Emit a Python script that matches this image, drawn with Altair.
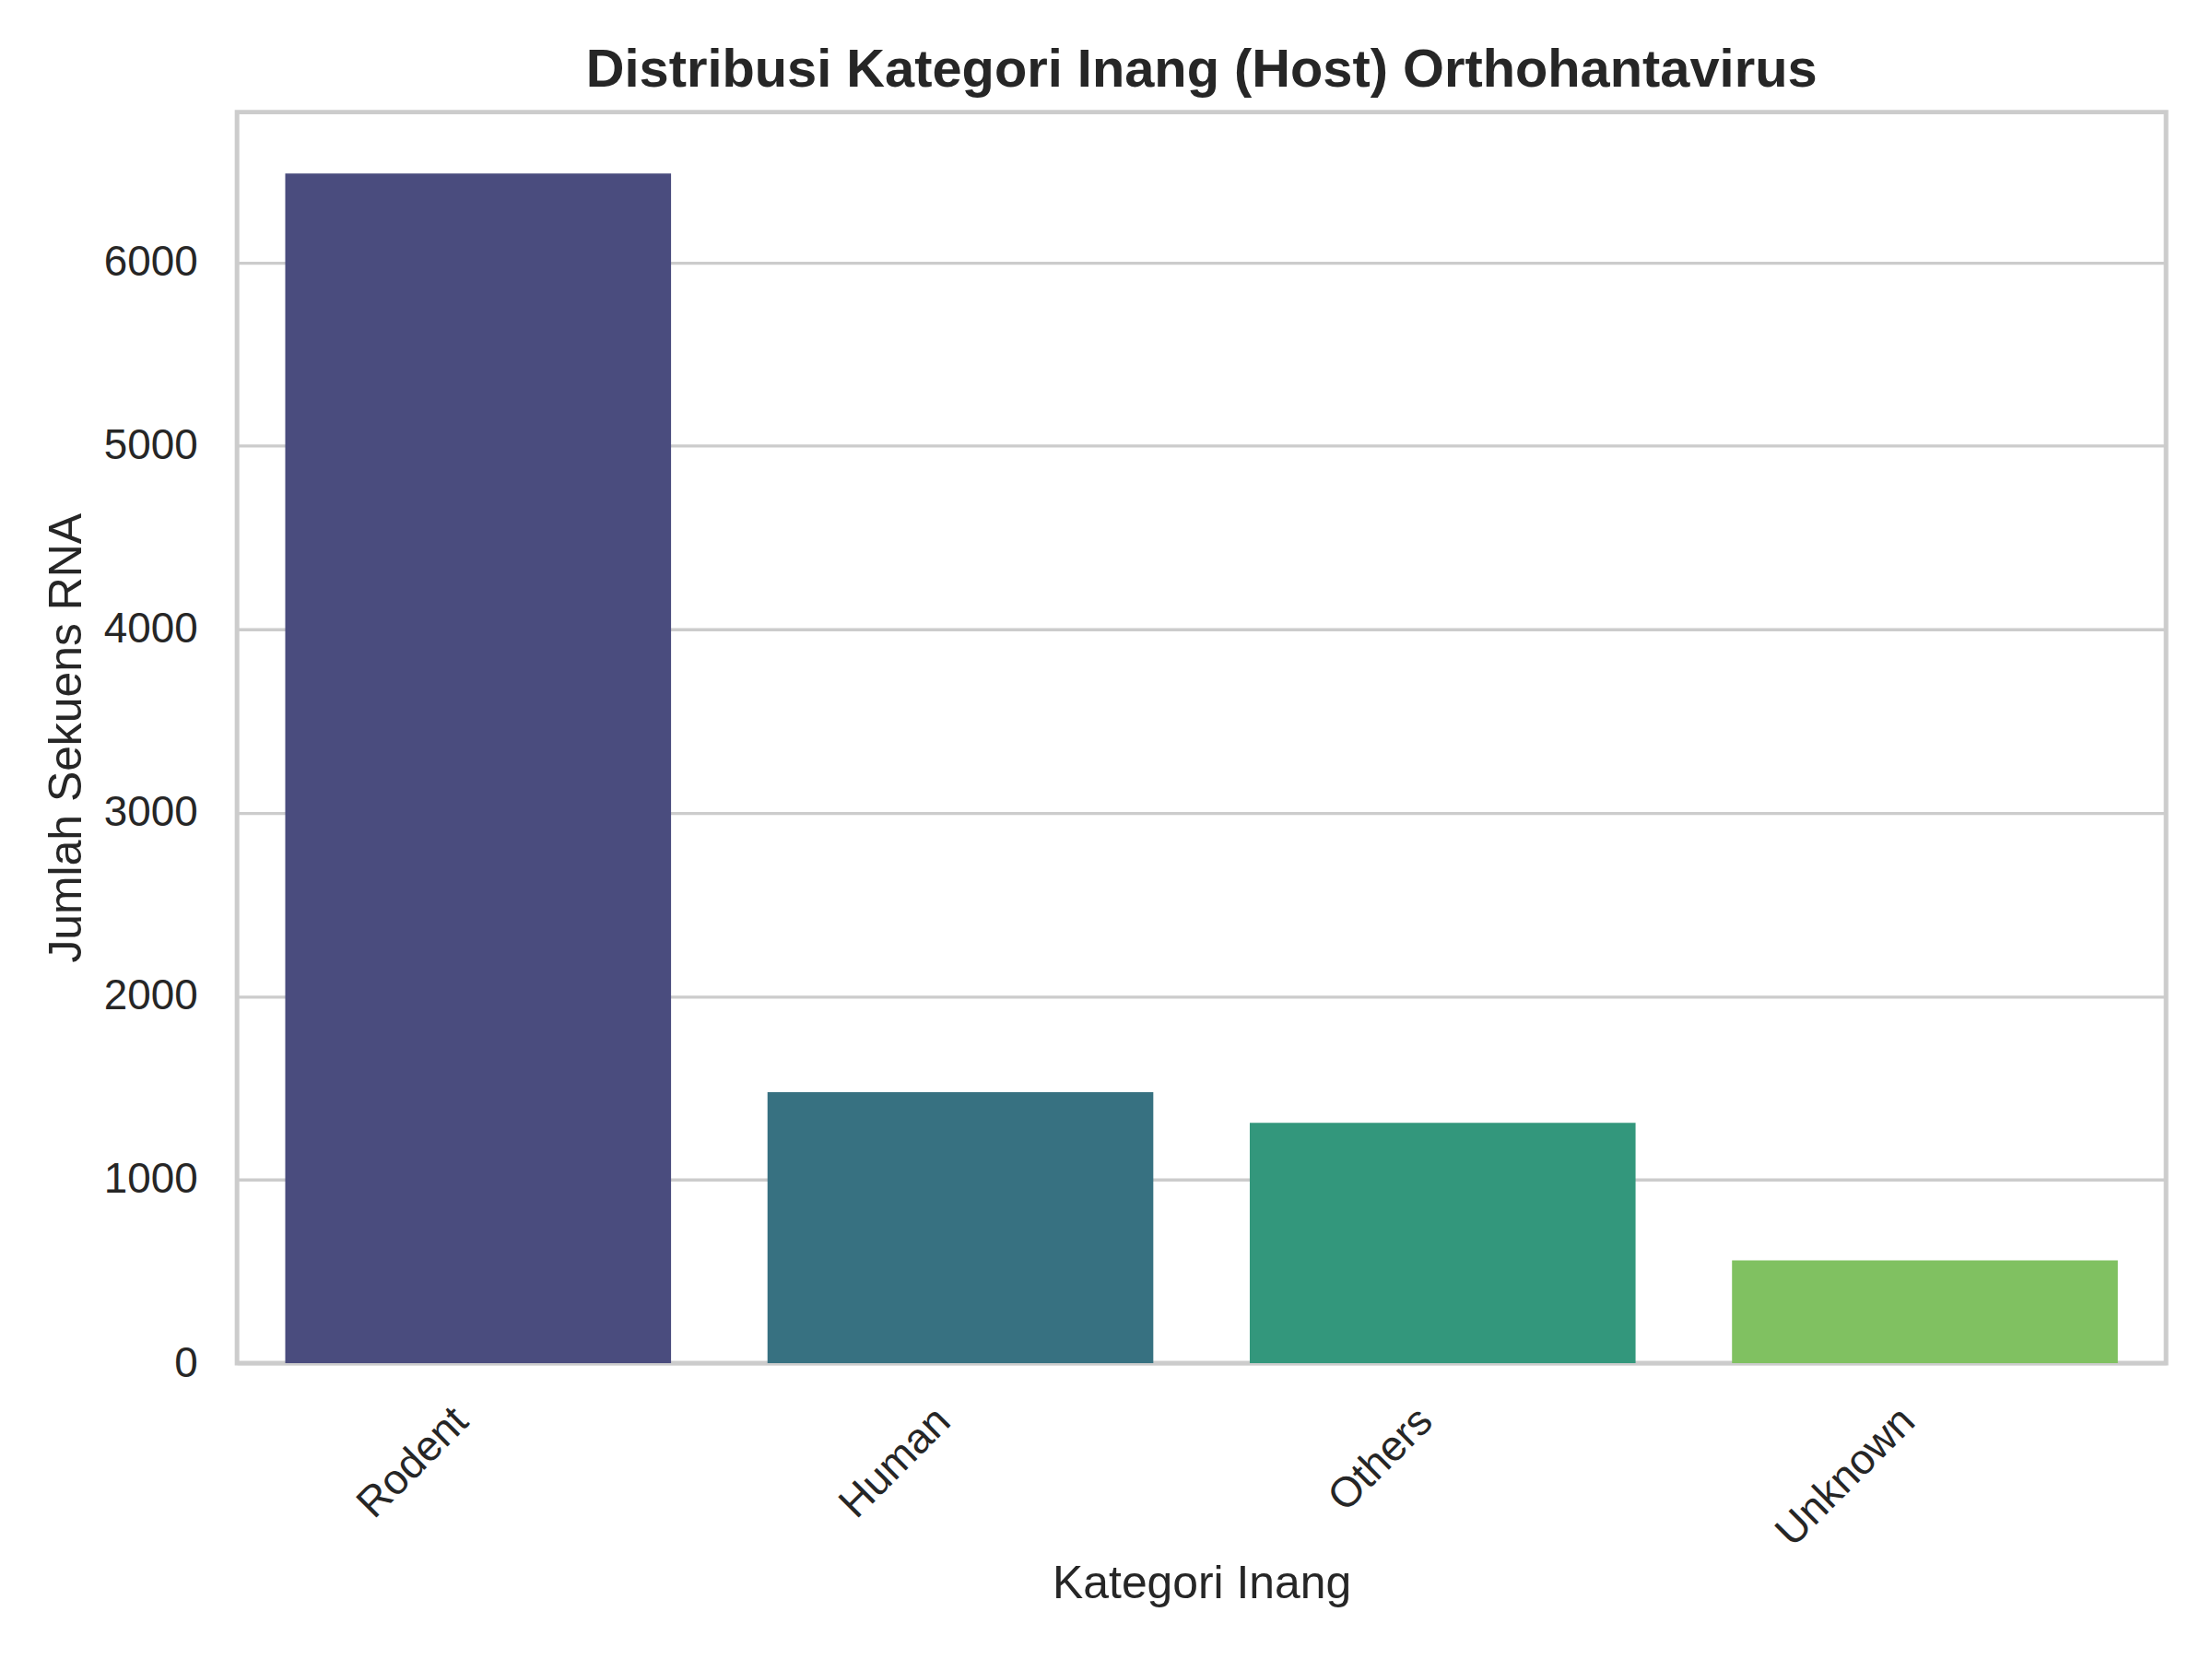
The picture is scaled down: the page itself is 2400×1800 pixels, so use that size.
import pandas as pd
import altair as alt

FONT = "Liberation Sans"
TEXT_COLOR = "#262626"
GRID_COLOR = "#cccccc"

categories = ["Rodent", "Human", "Others", "Unknown"]
counts = [6485, 1478, 1310, 560]
bar_colors = ["#4a4c7e", "#377181", "#33977c", "#80c161"]
y_ticks = [0, 1000, 2000, 3000, 4000, 5000, 6000]

df = pd.DataFrame({"kategori": categories, "jumlah": counts})

bars = alt.Chart(df).mark_bar().encode(
    x=alt.X(
        "kategori:N",
        sort=categories,
        scale=alt.Scale(paddingInner=0.2, paddingOuter=0.1),
        axis=alt.Axis(
            title="Kategori Inang",
            labelAngle=-45,
            labelAlign="right",
            labelBaseline="top",
            labelPadding=40,
            labelOffset=-34,
            labelLimit=0,
            labelFontSize=46,
            titleFontSize=50,
            titleFontWeight="normal",
            titleBaseline="alphabetic",
            titleY=255,
            ticks=False,
            domain=False,
            grid=False,
        ),
    ),
    y=alt.Y(
        "jumlah:Q",
        scale=alt.Scale(domain=[0, 6820], nice=False),
        axis=alt.Axis(
            title="Jumlah Sekuens RNA",
            values=y_ticks,
            format="d",
            labelFontSize=46,
            labelPadding=43,
            titleFontSize=50,
            titleFontWeight="normal",
            titleBaseline="alphabetic",
            titleX=-170,
            ticks=False,
            domain=False,
            grid=True,
            gridColor=GRID_COLOR,
            gridWidth=3.3,
        ),
    ),
    color=alt.Color(
        "kategori:N",
        scale=alt.Scale(domain=categories, range=bar_colors),
        legend=None,
    ),
)

chart = bars.properties(
    width=2100,
    height=1362,
    autosize=alt.AutoSizeParams(type="none"),
    padding={"left": 250, "top": 111, "right": 42, "bottom": 319},
    background="white",
    title=alt.TitleParams(
        "Distribusi Kategori Inang (Host) Orthohantavirus",
        fontSize=58,
        fontWeight="bold",
        font=FONT,
        color=TEXT_COLOR,
        anchor="middle",
        baseline="alphabetic",
        offset=-30,
    ),
).configure_view(
    stroke=GRID_COLOR,
    strokeWidth=5,
).configure_axis(
    labelFont=FONT,
    titleFont=FONT,
    labelColor=TEXT_COLOR,
    titleColor=TEXT_COLOR,
)

chart.save("out.html", embed_options={"renderer": "svg", "actions": False})
